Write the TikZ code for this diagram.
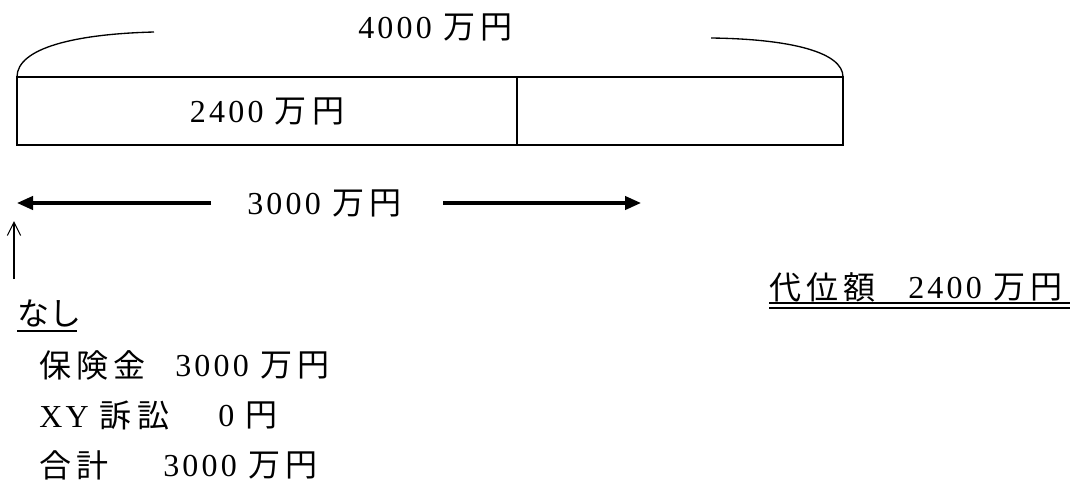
\documentclass[tikz,border=0pt]{standalone}
\usepackage{fontspec}
\setmainfont{Liberation Serif}[LetterSpace=10]
\newfontfamily\jp{Noto Sans CJK JP}
\usetikzlibrary{arrows.meta}
% gap between neighbouring kanji
\newcommand\kg{\kern 4pt\relax}
\tikzset{
  lbl/.style={inner sep=0pt, anchor=west, font=\fontsize{24pt}{28pt}\selectfont},
  cell/.style={draw, line width=1pt, inner sep=0pt, outer sep=0pt, minimum height=51pt, anchor=north west},
  brace/.style={line width=1pt},
  spanarrow/.style={line width=2.4pt, -{Triangle[length=12pt,width=10pt]}},
  pointer/.style={line width=0.8pt, -{Straight Barb[length=10pt,width=10pt]}},
  rule/.style={line width=1.1pt}
}
\begin{document}
\begin{tikzpicture}[x=0.75pt,y=-0.75pt]
\useasboundingbox (0,0) rectangle (1070,482);

% the bar split into two parts
\node[cell, minimum width=375pt] (left) at (17,77) {};
\node[cell, minimum width=244.5pt] (right) at (left.north east) {};
\node[lbl, anchor=center] (leftlbl) at (left.center) {2400 {\jp 万\kg 円}};

% overall amount above the bar
\node[lbl] (total) at (358,27) {4000 {\jp 万\kg 円}};
\coordinate (arcL) at (154,32);
\coordinate (arcR) at (711,38);
\draw[brace] (left.north west) .. controls (17,48) and (75,34) .. (arcL);
\draw[brace] (arcR) .. controls (790,39) and (843,52) .. (right.north east);

% span of 3000
\node[lbl] (spanlbl) at (247,203) {3000 {\jp 万\kg 円}};
\coordinate (spanL) at (17,203);
\coordinate (spanR) at (641,203);
\coordinate (spanLs) at (211,203);
\coordinate (spanRs) at (443,203);
\draw[spanarrow] (spanLs) -- (spanL);
\draw[spanarrow] (spanRs) -- (spanR);

% pointer to the start
\node[lbl] (none) at (17,313) {\jp なし};
\coordinate (ptrTop) at (14,221);
\coordinate (ptrBot) at (14,279);
\draw[pointer] (ptrBot) -- (ptrTop);
\draw[rule, line width=1.4pt] (17,331) -- (77,331);

% breakdown
\node[lbl] (r1a) at (39,365) {\jp 保\kg 険\kg 金};
\node[lbl] (r1b) at (175,365) {3000 {\jp 万\kg 円}};
\node[lbl] (r2a) at (39,415) {XY {\jp 訴\kg 訟}};
\node[lbl] (r2b) at (218,415) {0 {\jp 円}};
\node[lbl] (r3a) at (39,465) {\jp 合\kg 計};
\node[lbl] (r3b) at (163,465) {3000 {\jp 万\kg 円}};

% subrogation amount
\node[lbl] (sub1) at (769,287) {\jp 代\kg 位\kg 額};
\node[lbl] (sub2) at (908,287) {2400 {\jp 万\kg 円}};
\draw[rule] (769,303) -- (1070,303);
\draw[rule] (769,308) -- (1070,308);
\end{tikzpicture}
\end{document}
